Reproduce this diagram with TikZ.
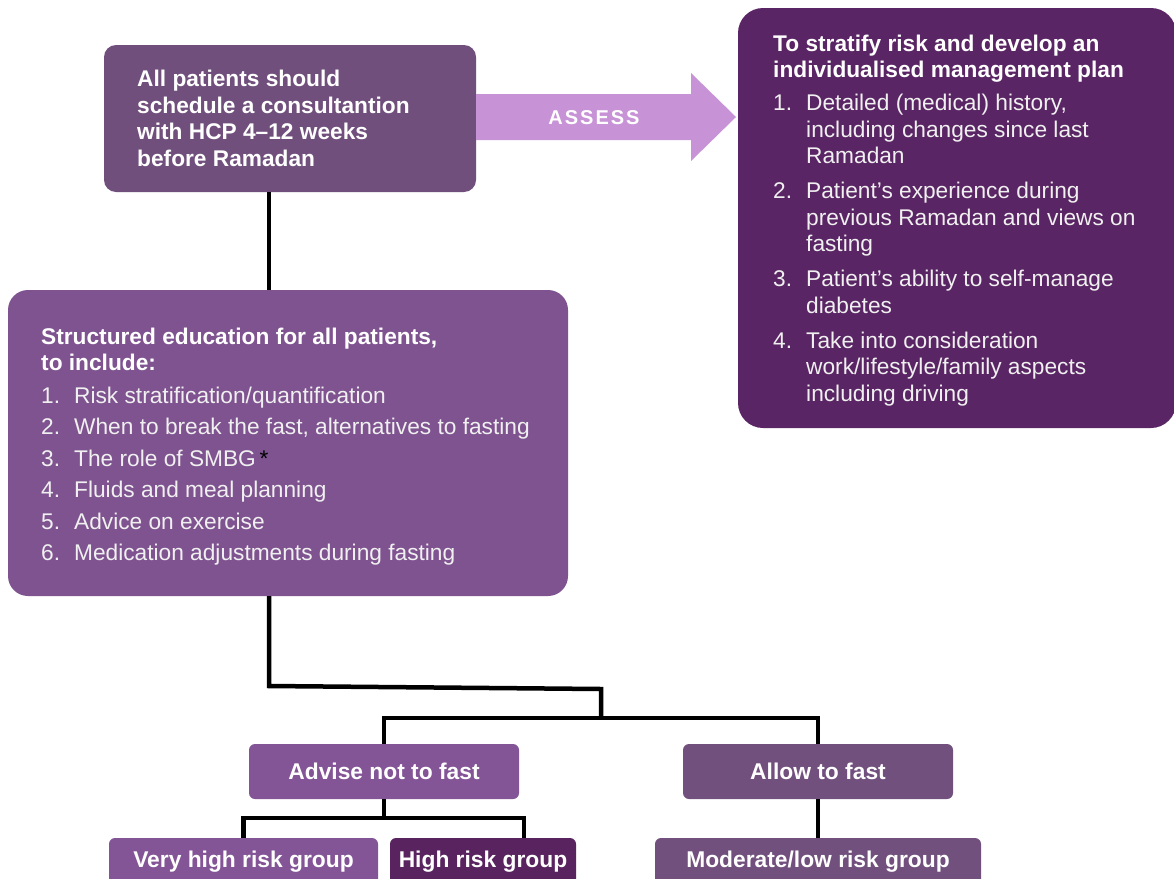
\documentclass[tikz,border=0pt]{standalone}
\usepackage{fontspec}
\setmainfont{Liberation Sans}
\usetikzlibrary{calc}
\definecolor{cTL}{HTML}{714F7D}
\definecolor{cEdu}{HTML}{7F5390}
\definecolor{cRight}{HTML}{5A2564}
\definecolor{cArrow}{HTML}{C792D6}
\definecolor{cAdv}{HTML}{835496}
\definecolor{cAllow}{HTML}{72507E}
\definecolor{cHigh}{HTML}{59235F}
\definecolor{cTxt}{HTML}{F0F0F0}
\newcommand\nm[1]{\makebox[33pt][l]{#1}}
\newcommand\hd[1]{\textcolor{white}{\textbf{#1}}}
\begin{document}
\begin{tikzpicture}[x=1pt,y=-1pt,
  panel/.style={fill=#1, draw=none, inner sep=0pt, rounded corners=6pt},
  bodytxt/.style={text=cTxt, align=left, inner sep=0pt, anchor=west, font=\fontsize{22.7}{26.5}\selectfont},
  btxt/.style={text=white, font=\bfseries\fontsize{22.8}{26.5}\selectfont},
  wire/.style={line width=4.5pt, black, line join=miter}
]
\path[use as bounding box] (0,0) rectangle (1174,878);
\clip (0,0) rectangle (1174,878);
\fill[white] (0,0) rectangle (1174,878);

% top-left box
\node[panel=cTL, rounded corners=12pt, minimum width=372pt, minimum height=147pt] (tl) at (290,118.5) {};
\node[bodytxt, text=white, font=\bfseries\fontsize{22.7}{26.5}\selectfont] (tlt) at (137,118.5)
  {All patients should\\schedule a consultantion\\with HCP 4–12 weeks\\before Ramadan};

% arrow
\fill[cArrow] (476,94) -- (691,94) -- (691,73) -- (736,117) -- (691,161) -- (691,140) -- (476,140) -- cycle;
\node[text=white, font=\bfseries\fontsize{20}{24}\selectfont\addfontfeature{LetterSpace=10}] (assess) at (594,118) {ASSESS};

% right box
\node[panel=cRight, rounded corners=25pt, minimum width=438pt, minimum height=420pt] (rb) at (957,218) {};
\node[bodytxt] (rbt) at (773,220.5) {%
\hd{To stratify risk and develop an}\\
\hd{individualised management plan}\\[6.5pt]
\nm{1.}Detailed (medical) history,\\
\nm{}including changes since last\\
\nm{}Ramadan\\[8.5pt]
\nm{2.}Patient’s experience during\\
\nm{}previous Ramadan and views on\\
\nm{}fasting\\[8.5pt]
\nm{3.}Patient’s ability to self-manage\\
\nm{}diabetes\\[8.5pt]
\nm{4.}Take into consideration\\
\nm{}work/lifestyle/family  aspects\\
\nm{}including driving};

% education box
\node[panel=cEdu, rounded corners=20pt, minimum width=560pt, minimum height=306pt] (edu) at (288,443) {};
\node[bodytxt] (edut) at (41,446.5) {%
\hd{Structured education for all patients,}\\
\hd{to include:}\\[6pt]
\nm{1.}Risk stratification/quantification\\[5pt]
\nm{2.}When to break the fast, alternatives to fasting\\[5pt]
\nm{3.}The role of SMBG\,\textcolor{black}{*}\\[5pt]
\nm{4.}Fluids and meal planning\\[5pt]
\nm{5.}Advice on exercise\\[5pt]
\nm{6.}Medication adjustments during fasting};

% decision boxes
\node[panel=cAdv, btxt, minimum width=270pt, minimum height=55pt] (adv) at (384,771.5) {Advise not to fast};
\node[panel=cAllow, btxt, minimum width=270pt, minimum height=55pt] (allow) at (818,771.5) {Allow to fast};
\node[panel=cAdv, btxt, minimum width=269pt, minimum height=47pt] (vh) at (243.5,861.5) {Very high risk group};
\node[panel=cHigh, btxt, minimum width=186pt, minimum height=47pt] (hi) at (483,861.5) {High risk group};
\node[panel=cAllow, btxt, minimum width=326pt, minimum height=47pt] (mod) at (818,861.5) {Moderate/low risk group};

% connectors
\coordinate (c1) at (269,0);
\coordinate (c2) at (524,0);
\coordinate (k1) at (269,686);
\coordinate (k2) at (601,689);
\coordinate (j1) at (601,718);
\coordinate (j2) at (384,818);
\draw[wire] (tl.south -| c1) -- (edu.north -| c1);
\draw[wire] (edu.south -| c1) -- (k1) -- (k2) -- (j1);
\draw[wire] (adv.north) |- (j1) -| (allow.north);
\draw[wire] (adv.south) -- (j2);
\draw[wire] (vh.north) |- (j2) -| (hi.north -| c2);
\draw[wire] (allow.south) -- (mod.north);
\end{tikzpicture}
\end{document}
